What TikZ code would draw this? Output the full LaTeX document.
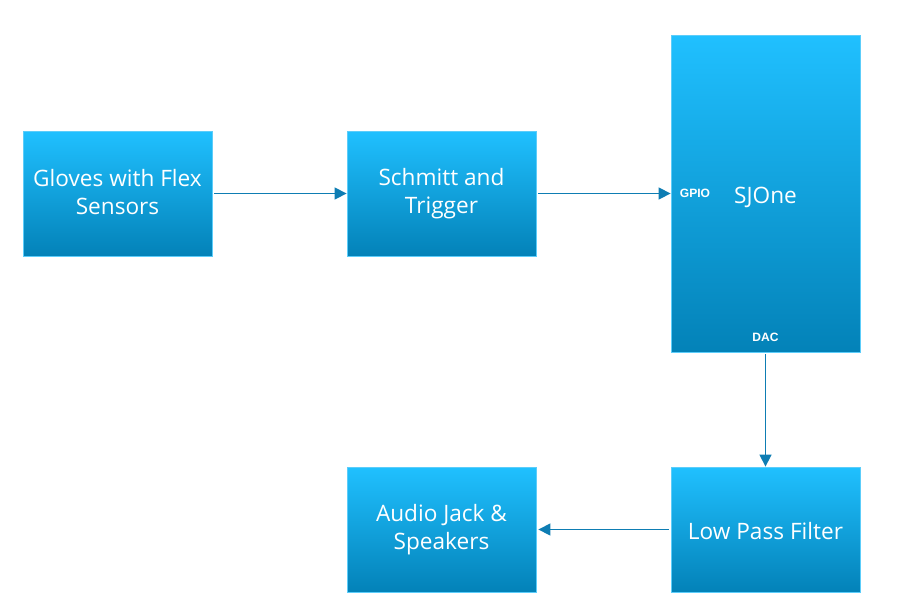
\documentclass[tikz,border=0pt]{standalone}
\usepackage{fontspec}
\setmainfont{Open Sans}
\newfontfamily\smallfont{Liberation Sans}
\usepackage{tikz}
\usetikzlibrary{arrows.meta}
\usetikzlibrary{positioning}
\definecolor{blktop}{HTML}{20C0FF}
\definecolor{blkbot}{HTML}{0382B8}
\definecolor{blkline}{HTML}{5CCDFA}
\definecolor{wire}{HTML}{0E7DB3}
\newcommand{\blkstrut}{\rule[-2.6pt]{0pt}{22.8pt}}

\begin{document}
\begin{tikzpicture}[
  x=0.3mm, y=-0.3mm,
  dep/.style ={
    -{Triangle[length=3.6mm,width=3.6mm]},draw=wire,line width=0.45mm
  },
  blk/.style 2 args={
    rectangle,
    draw=blkline,
    line width=0.25mm,
    top color=blktop,
    bottom color=blkbot,
    minimum width=#1*0.3mm,
    minimum height=#2*0.3mm,
    text=white,
    align=center,
    execute at begin node=\blkstrut,
    execute at end node=\blkstrut,
    font=\fontsize{19.3}{24.2}\selectfont},
  pin/.style={
    text=white,
    font=\smallfont\bfseries\fontsize{10.3}{12}\selectfont},
]

  \def\stepsize{324}%
  \def\lvlbase{193.5}%
  \def\lvlheight{336}%

  \useasboundingbox (0,0) rectangle (907,611);

    % Top row
  \node[blk={189}{125}] (gloves) at (117.5, \lvlbase) {Gloves with Flex\\Sensors};
  \node[blk={189}{125}] (schmitt) at (117.5+\stepsize, \lvlbase) {Schmitt and\\Trigger};
  \node[blk={189}{317}] (sjone) at (117.5+2*\stepsize, \lvlbase) {SJOne};
  \node[pin] (gpio) at (695, \lvlbase) {GPIO};
  \node[pin] (dac) at (117.5+2*\stepsize, 337) {DAC};

    % Bottom row
  \node[blk={189}{125}] (lpf) at (117.5+2*\stepsize, \lvlbase+\lvlheight) {Low Pass Filter};
  \node[blk={189}{125}] (audio) at (117.5+\stepsize, \lvlbase+\lvlheight) {Audio Jack \&\\Speakers};

    % Connections
  \draw[dep] ([xshift=0.6mm]gloves.east) to (schmitt.west);
  \draw[dep] ([xshift=0.6mm]schmitt.east) to (sjone.west);
  \draw[dep] ([yshift=-0.6mm]sjone.south) to (lpf.north);
  \draw[dep] ([xshift=-0.6mm]lpf.west) to ([xshift=0.6mm]audio.east);

\end{tikzpicture}
\end{document}
